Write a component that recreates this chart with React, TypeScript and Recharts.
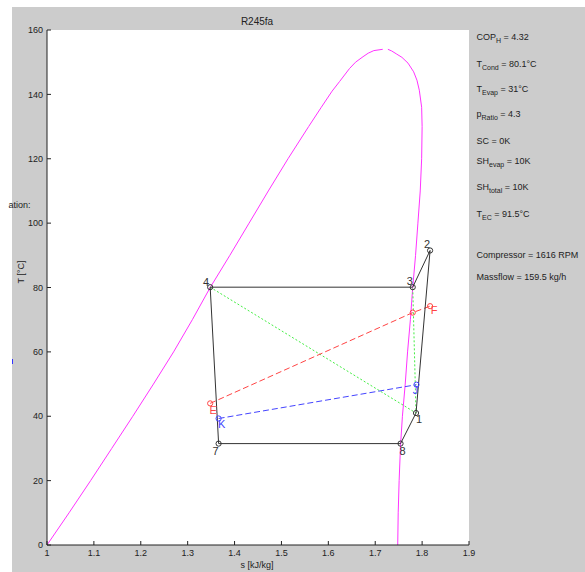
import React from 'react';
import { ComposedChart, Line, Scatter, XAxis, YAxis, CartesianGrid } from 'recharts';

// Saturation dome (liquid branch), T in °C, s in kJ/kgK
const liquidT = [0, 10, 20, 30, 40, 50, 60, 70, 80, 90, 100, 110, 120, 130, 136, 141, 144, 148, 150, 151.7, 152.8, 153.6, 154];
const liquidS = [1.0, 1.047, 1.093, 1.138, 1.183, 1.227, 1.27, 1.31, 1.348, 1.39, 1.431, 1.472, 1.514, 1.558, 1.585, 1.608, 1.624, 1.645, 1.658, 1.674, 1.685, 1.697, 1.716];
// Saturation dome (vapour branch)
const vaporT = [154, 153.5, 152.5, 151.5, 149.7, 147, 144.4, 141.3, 136, 130, 120, 110, 100, 90, 80, 70, 60, 50, 40, 31, 20, 10, 0];
const vaporS = [1.727, 1.735, 1.746, 1.757, 1.77, 1.782, 1.789, 1.794, 1.799, 1.8, 1.799, 1.796, 1.791, 1.786, 1.78, 1.775, 1.769, 1.764, 1.758, 1.754, 1.751, 1.749, 1.748];

// Cycle state points
const stateLabels = ['1', '2', '3', '4', '7', '8'];
const stateS = [1.787, 1.817, 1.78, 1.348, 1.366, 1.754];
const stateT = [41, 91.5, 80.1, 80.1, 31.5, 31.5];
const cycleOrder = ['4', '3', '2', '1', '8', '7', '4'];
const greenOrder = ['4', '1', '3'];

// Secondary (red) stream
const redLabels = ['E', '', 'F'];
const redS = [1.348, 1.78, 1.817];
const redT = [44, 72.2, 74.2];
// Secondary (blue) stream
const blueLabels = ['K', 'J'];
const blueS = [1.366, 1.788];
const blueT = [39.3, 49.8];

const xTicks = [1, 1.1, 1.2, 1.3, 1.4, 1.5, 1.6, 1.7, 1.8, 1.9];
const yTicks = [0, 20, 40, 60, 80, 100, 120, 140, 160];

const infoLines = [
  { main: 'COP', sub: 'H', rest: ' = 4.32' },
  { main: 'T', sub: 'Cond', rest: ' = 80.1°C' },
  { main: 'T', sub: 'Evap', rest: ' = 31°C' },
  { main: 'p', sub: 'Ratio', rest: ' = 4.3' },
  { main: 'SC = 0K', sub: '', rest: '' },
  { main: 'SH', sub: 'evap', rest: ' = 10K' },
  { main: 'SH', sub: 'total', rest: ' = 10K' },
  { main: 'T', sub: 'EC', rest: ' = 91.5°C' },
  { main: 'Compressor = 1616 RPM', sub: '', rest: '' },
  { main: 'Massflow = 159.5 kg/h', sub: '', rest: '' },
];
const infoBaselines = [40, 66.5, 91.5, 117, 143.5, 164, 190, 216.5, 258, 280];

const FONT = '"Liberation Sans", Arial, Helvetica, sans-serif';

const zip = (s: number[], t: number[]) => s.map((v, i) => ({ s: v, T: t[i] }));
const liquidData = zip(liquidS, liquidT);
const vaporData = zip(vaporS, vaporT);
const stateMap: Record<string, { s: number; T: number }> = {};
stateLabels.forEach((l, i) => (stateMap[l] = { s: stateS[i], T: stateT[i] }));
const cycleData = cycleOrder.map((l) => stateMap[l]);
const greenData = greenOrder.map((l) => stateMap[l]);
const stateMarkers = stateLabels.map((l, i) => ({ s: stateS[i], T: stateT[i], label: l }));
const redData = redS.map((v, i) => ({ s: v, T: redT[i], label: redLabels[i] }));
const blueData = blueS.map((v, i) => ({ s: v, T: blueT[i], label: blueLabels[i] }));

const labelOffsets: Record<string, [number, number]> = {
  '1': [3, 6],
  '2': [-3, -6],
  '3': [-3, -6.5],
  '4': [-4, -5.5],
  '7': [-3, 7],
  '8': [2, 7],
  E: [3, 7],
  F: [4, 4],
  K: [3, 5],
  J: [-1, 5],
};

const makeMarker = (color: string, textColor: string) => (props: any) => {
  const { cx, cy, payload } = props;
  const lab: string = payload.label;
  const off = labelOffsets[lab] || [0, 0];
  return (
    <g>
      <circle cx={cx} cy={cy} r={2.6} fill="none" stroke={color} strokeWidth={1} />
      {lab ? (
        <text
          x={cx + off[0]}
          y={cy + off[1]}
          textAnchor="middle"
          dominantBaseline="central"
          fontSize={11}
          fontFamily={FONT}
          fill={textColor}
        >
          {lab}
        </text>
      ) : null}
    </g>
  );
};

const XTick = (props: any) => {
  const { x, y, payload } = props;
  return (
    <g>
      <line x1={x} x2={x} y1={y - 5} y2={y - 9} stroke="#222" strokeWidth={1} />
      <text x={x} y={y} dy="0.71em" textAnchor="middle" fontSize={9} fontFamily={FONT} fill="#222">
        {String(payload.value)}
      </text>
    </g>
  );
};

const YTick = (props: any) => {
  const { x, y, payload } = props;
  return (
    <g>
      <line x1={x + 4} x2={x + 8} y1={y} y2={y} stroke="#222" strokeWidth={1} />
      <text x={x} y={y} dy="0.355em" textAnchor="end" fontSize={9} fontFamily={FONT} fill="#222">
        {String(payload.value)}
      </text>
    </g>
  );
};

export default function App() {
  return (
    <div style={{ position: 'absolute', left: 0, top: 0, width: 585, height: 572, background: '#fff', overflow: 'hidden' }}>
      <div style={{ position: 'absolute', left: 12, top: 7, width: 573, height: 565, background: '#cccccc' }} />
      <div style={{ position: 'absolute', left: 0, top: 0 }}>
        <ComposedChart width={585} height={572} margin={{ top: 30, right: 116, bottom: 7, left: 17 }}>
          <CartesianGrid horizontal={false} vertical={false} fill="#ffffff" stroke="none" />
          <XAxis
            type="number"
            dataKey="s"
            domain={[1, 1.9]}
            ticks={xTicks}
            allowDataOverflow
            height={20}
            tickSize={0}
            tickMargin={5}
            tickLine={false}
            tick={<XTick />}
            axisLine={{ stroke: '#222', strokeWidth: 1 }}
            interval={0}
          />
          <YAxis
            type="number"
            dataKey="T"
            domain={[0, 160]}
            ticks={yTicks}
            allowDataOverflow
            width={30}
            tickSize={0}
            tickMargin={4}
            tickLine={false}
            tick={<YTick />}
            axisLine={{ stroke: '#222', strokeWidth: 1 }}
            interval={0}
          />
          <Line data={liquidData} dataKey="T" type="linear" stroke="#ff33ff" strokeWidth={1} dot={false} isAnimationActive={false} />
          <Line data={vaporData} dataKey="T" type="linear" stroke="#ff33ff" strokeWidth={1} dot={false} isAnimationActive={false} />
          <Line data={greenData} dataKey="T" type="linear" stroke="#44ee44" strokeWidth={1} strokeDasharray="2 2" dot={false} isAnimationActive={false} />
          <Line data={redData} dataKey="T" type="linear" stroke="#ff4444" strokeWidth={1} strokeDasharray="6 3" dot={false} isAnimationActive={false} />
          <Line data={blueData} dataKey="T" type="linear" stroke="#4444ff" strokeWidth={1} strokeDasharray="6 3" dot={false} isAnimationActive={false} />
          <Line data={cycleData} dataKey="T" type="linear" stroke="#333333" strokeWidth={1} dot={false} isAnimationActive={false} />
          <Scatter data={stateMarkers} dataKey="T" shape={makeMarker('#333333', '#333333')} isAnimationActive={false} />
          <Scatter data={redData} dataKey="T" shape={makeMarker('#ff4444', '#ff4444')} isAnimationActive={false} />
          <Scatter data={blueData} dataKey="T" shape={makeMarker('#4444ff', '#4444ff')} isAnimationActive={false} />
        </ComposedChart>
      </div>
      <svg
        width={585}
        height={572}
        style={{ position: 'absolute', left: 0, top: 0, pointerEvents: 'none' }}
        fontFamily={FONT}
      >
        <text x={257} y={25} textAnchor="middle" fontSize={10} fill="#222">R245fa</text>
        <text x={257} y={568} textAnchor="middle" fontSize={9} fill="#222">s [kJ/kg]</text>
        <text x={0} y={0} transform="translate(24 272) rotate(-90)" textAnchor="middle" fontSize={9} fill="#222">T [°C]</text>
        <text x={30.5} y={208} textAnchor="end" fontSize={9} fill="#222">ation:</text>
        <line x1={12.5} x2={12.5} y1={359} y2={364} stroke="#3333ff" strokeWidth={1} />
        {infoLines.map((ln, i) => (
          <text key={i} x={476.5} y={infoBaselines[i]} fontSize={9} fill="#222">
            {ln.main}
            {ln.sub ? (
              <>
                <tspan dy={3} fontSize={7}>{ln.sub}</tspan>
                <tspan dy={-3}>{ln.rest}</tspan>
              </>
            ) : null}
          </text>
        ))}
      </svg>
    </div>
  );
}
